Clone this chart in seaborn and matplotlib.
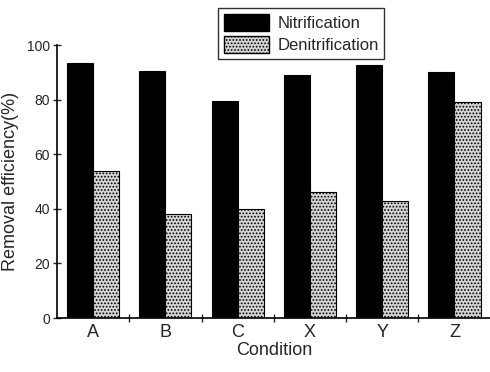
import matplotlib
matplotlib.use("Agg")
import matplotlib.pyplot as plt
import seaborn as sns
import pandas as pd
from matplotlib.patches import Patch

conditions = ["A", "B", "C", "X", "Y", "Z"]
nitrification = [93.5, 90.5, 79.5, 89, 92.5, 90]
denitrification = [53.8, 38, 39.8, 46, 43, 79.3]

df = pd.DataFrame({
    "Condition": conditions * 2,
    "Value": nitrification + denitrification,
    "Process": ["Nitrification"] * 6 + ["Denitrification"] * 6,
})

sns.set_style("ticks")
plt.rcParams['font.family'] = ['Liberation Sans', 'DejaVu Sans']
plt.rcParams['hatch.color'] = '#8c8c8c'
plt.rcParams['hatch.linewidth'] = 0.8

grey = "#d4d4d4"
fig = plt.figure(figsize=(4.9, 3.72), dpi=100)
ax = fig.add_axes([0.1163, 0.145, 0.885, 0.734])

sns.barplot(data=df, x="Condition", y="Value", hue="Process",
            palette={"Nitrification": "black", "Denitrification": grey},
            width=0.72, ax=ax, legend=False, edgecolor="black", linewidth=0.8)

for p in ax.patches[6:12]:
    p.set_hatch('.....')
    p.set_edgecolor('black')

ax.set_xlim(-0.5, 5.5)
ax.set_ylim(0, 100)
ax.set_yticks([0, 20, 40, 60, 80, 100])
ax.set_xticks(range(6))
ax.set_xticks([0.5, 1.5, 2.5, 3.5, 4.5], minor=True)
ax.tick_params(axis='x', which='major', length=0, labelsize=13, pad=4)
ax.tick_params(axis='x', which='minor', direction='inout', length=6, width=1)
ax.tick_params(axis='y', direction='inout', length=6, width=1, labelsize=10, pad=2)
ax.set_xlabel("Condition", fontsize=13, labelpad=1)
ax.set_ylabel("Removal efficiency(%)", fontsize=13, labelpad=6)
sns.despine(ax=ax)
for s in ["left", "bottom"]:
    ax.spines[s].set_linewidth(1.2)
    ax.spines[s].set_color("black")

handles = [Patch(facecolor="black", edgecolor="black", label="Nitrification"),
           Patch(facecolor=grey, edgecolor="black", hatch='.....', label="Denitrification")]
leg = fig.legend(handles=handles, loc="upper left", bbox_to_anchor=(0.428, 1.0),
                 frameon=True, fancybox=False, edgecolor="black", fontsize=12,
                 handlelength=2.7, handleheight=1.2, borderpad=0.35, labelspacing=0.3,
                 handletextpad=0.5)
leg.get_frame().set_linewidth(1.0)

fig.savefig("out.png", dpi=100)
